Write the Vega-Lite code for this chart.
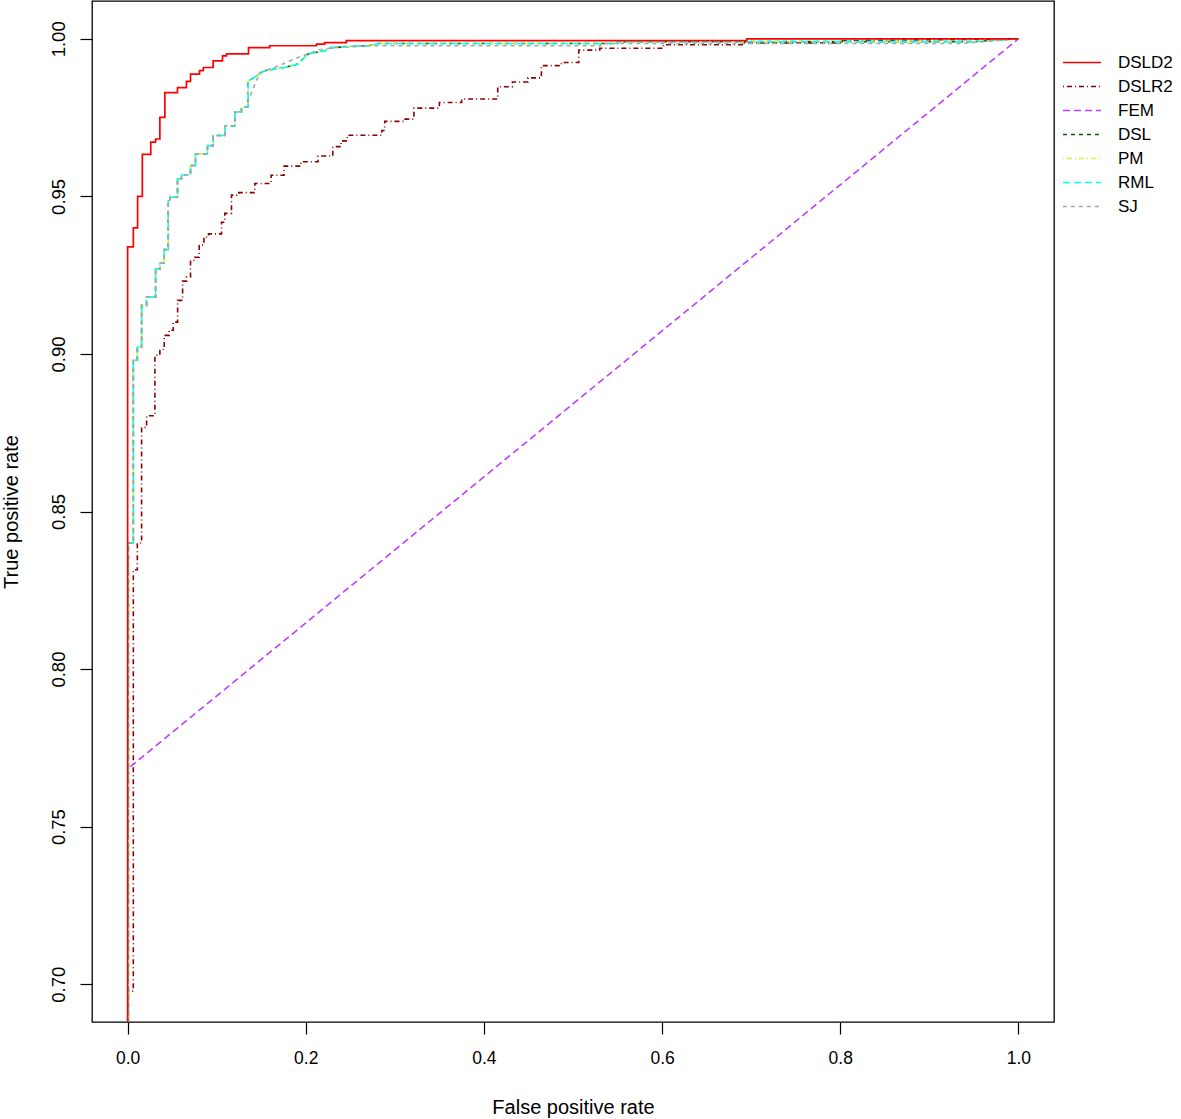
{
  "$schema": "https://vega.github.io/schema/vega-lite/v6.json",
  "width": 962,
  "height": 1021,
  "autosize": {"type": "none"},
  "padding": {"left": 92, "top": 1, "right": 127, "bottom": 97},
  "background": "white",
  "config": {
    "font": "Liberation Sans",
    "view": {"stroke": "black", "strokeWidth": 1.3},
    "axis": {
      "domain": false, "grid": false, "tickColor": "black", "tickSize": 12, "tickWidth": 1.2,
      "labelColor": "black", "labelFontSize": 17.5, "titleFontSize": 20, "titleFontWeight": "normal", "titleColor": "black"
    },
    "legend": {"labelFontSize": 17, "labelColor": "black", "symbolType": "M-2,0H2", "symbolSize": 361, "symbolStrokeWidth": 1.5, "labelOffset": 25.5, "padding": 0, "rowPadding": 5}
  },
  "data": {"values": [
    {"model":"DSLD2","fpr":0,"tpr":0.68},{"model":"DSLD2","fpr":0,"tpr":0.934},{"model":"DSLD2","fpr":0.0064,"tpr":0.934},{"model":"DSLD2","fpr":0.0064,"tpr":0.94},{"model":"DSLD2","fpr":0.0112,"tpr":0.94},{"model":"DSLD2","fpr":0.0112,"tpr":0.95},{"model":"DSLD2","fpr":0.0165,"tpr":0.95},{"model":"DSLD2","fpr":0.0165,"tpr":0.9633},{"model":"DSLD2","fpr":0.026,"tpr":0.9633},{"model":"DSLD2","fpr":0.026,"tpr":0.9672},{"model":"DSLD2","fpr":0.0314,"tpr":0.9672},{"model":"DSLD2","fpr":0.0314,"tpr":0.9682},{"model":"DSLD2","fpr":0.0362,"tpr":0.9682},{"model":"DSLD2","fpr":0.0362,"tpr":0.9751},{"model":"DSLD2","fpr":0.0418,"tpr":0.9751},{"model":"DSLD2","fpr":0.0418,"tpr":0.9829},{"model":"DSLD2","fpr":0.056,"tpr":0.9829},{"model":"DSLD2","fpr":0.056,"tpr":0.9845},{"model":"DSLD2","fpr":0.066,"tpr":0.9845},{"model":"DSLD2","fpr":0.066,"tpr":0.9865},{"model":"DSLD2","fpr":0.0706,"tpr":0.9865},{"model":"DSLD2","fpr":0.0706,"tpr":0.9888},{"model":"DSLD2","fpr":0.0807,"tpr":0.9888},{"model":"DSLD2","fpr":0.0807,"tpr":0.9899},{"model":"DSLD2","fpr":0.085,"tpr":0.9899},{"model":"DSLD2","fpr":0.085,"tpr":0.9909},{"model":"DSLD2","fpr":0.096,"tpr":0.9909},{"model":"DSLD2","fpr":0.096,"tpr":0.993},{"model":"DSLD2","fpr":0.1065,"tpr":0.993},{"model":"DSLD2","fpr":0.1065,"tpr":0.9946},{"model":"DSLD2","fpr":0.111,"tpr":0.9946},{"model":"DSLD2","fpr":0.111,"tpr":0.9952},{"model":"DSLD2","fpr":0.1357,"tpr":0.9952},{"model":"DSLD2","fpr":0.1357,"tpr":0.9972},{"model":"DSLD2","fpr":0.1595,"tpr":0.9972},{"model":"DSLD2","fpr":0.1595,"tpr":0.9978},{"model":"DSLD2","fpr":0.2119,"tpr":0.9978},{"model":"DSLD2","fpr":0.2119,"tpr":0.9983},{"model":"DSLD2","fpr":0.2212,"tpr":0.9983},{"model":"DSLD2","fpr":0.2212,"tpr":0.9988},{"model":"DSLD2","fpr":0.2455,"tpr":0.9988},{"model":"DSLD2","fpr":0.2455,"tpr":0.9994},{"model":"DSLD2","fpr":0.695,"tpr":0.9994},{"model":"DSLD2","fpr":0.695,"tpr":1},{"model":"DSLD2","fpr":1,"tpr":1},

    {"model":"DSLR2","fpr":0.0008,"tpr":0.68},{"model":"DSLR2","fpr":0.0008,"tpr":0.6978},{"model":"DSLR2","fpr":0.0064,"tpr":0.6978},{"model":"DSLR2","fpr":0.0064,"tpr":0.8315},{"model":"DSLR2","fpr":0.0109,"tpr":0.8315},{"model":"DSLR2","fpr":0.0109,"tpr":0.84},{"model":"DSLR2","fpr":0.0157,"tpr":0.84},{"model":"DSLR2","fpr":0.0157,"tpr":0.8767},{"model":"DSLR2","fpr":0.0213,"tpr":0.8767},{"model":"DSLR2","fpr":0.0213,"tpr":0.8804},{"model":"DSLR2","fpr":0.0306,"tpr":0.8804},{"model":"DSLR2","fpr":0.0306,"tpr":0.8996},{"model":"DSLR2","fpr":0.0362,"tpr":0.8996},{"model":"DSLR2","fpr":0.0362,"tpr":0.9014},{"model":"DSLR2","fpr":0.0411,"tpr":0.9014},{"model":"DSLR2","fpr":0.0411,"tpr":0.9059},{"model":"DSLR2","fpr":0.0467,"tpr":0.9059},{"model":"DSLR2","fpr":0.0467,"tpr":0.9075},{"model":"DSLR2","fpr":0.0512,"tpr":0.9075},{"model":"DSLR2","fpr":0.0512,"tpr":0.9101},{"model":"DSLR2","fpr":0.0561,"tpr":0.9101},{"model":"DSLR2","fpr":0.0561,"tpr":0.917},{"model":"DSLR2","fpr":0.0617,"tpr":0.917},{"model":"DSLR2","fpr":0.0617,"tpr":0.9231},{"model":"DSLR2","fpr":0.0661,"tpr":0.9231},{"model":"DSLR2","fpr":0.0661,"tpr":0.9244},{"model":"DSLR2","fpr":0.0706,"tpr":0.9244},{"model":"DSLR2","fpr":0.0706,"tpr":0.9297},{"model":"DSLR2","fpr":0.0755,"tpr":0.9297},{"model":"DSLR2","fpr":0.0755,"tpr":0.9307},{"model":"DSLR2","fpr":0.0804,"tpr":0.9307},{"model":"DSLR2","fpr":0.0804,"tpr":0.9346},{"model":"DSLR2","fpr":0.0857,"tpr":0.9346},{"model":"DSLR2","fpr":0.0857,"tpr":0.9371},{"model":"DSLR2","fpr":0.0908,"tpr":0.9371},{"model":"DSLR2","fpr":0.0908,"tpr":0.9381},{"model":"DSLR2","fpr":0.1054,"tpr":0.9381},{"model":"DSLR2","fpr":0.1054,"tpr":0.9418},{"model":"DSLR2","fpr":0.1091,"tpr":0.9418},{"model":"DSLR2","fpr":0.1091,"tpr":0.9446},{"model":"DSLR2","fpr":0.1166,"tpr":0.9446},{"model":"DSLR2","fpr":0.1166,"tpr":0.9504},{"model":"DSLR2","fpr":0.1248,"tpr":0.9504},{"model":"DSLR2","fpr":0.1248,"tpr":0.9512},{"model":"DSLR2","fpr":0.1428,"tpr":0.9512},{"model":"DSLR2","fpr":0.1428,"tpr":0.9541},{"model":"DSLR2","fpr":0.1611,"tpr":0.9541},{"model":"DSLR2","fpr":0.1611,"tpr":0.9567},{"model":"DSLR2","fpr":0.1756,"tpr":0.9567},{"model":"DSLR2","fpr":0.1756,"tpr":0.9596},{"model":"DSLR2","fpr":0.1946,"tpr":0.9596},{"model":"DSLR2","fpr":0.1946,"tpr":0.961},{"model":"DSLR2","fpr":0.2137,"tpr":0.961},{"model":"DSLR2","fpr":0.2137,"tpr":0.9628},{"model":"DSLR2","fpr":0.2303,"tpr":0.9628},{"model":"DSLR2","fpr":0.2303,"tpr":0.9658},{"model":"DSLR2","fpr":0.2396,"tpr":0.9658},{"model":"DSLR2","fpr":0.2396,"tpr":0.9676},{"model":"DSLR2","fpr":0.2466,"tpr":0.9676},{"model":"DSLR2","fpr":0.2466,"tpr":0.9694},{"model":"DSLR2","fpr":0.2854,"tpr":0.9694},{"model":"DSLR2","fpr":0.2854,"tpr":0.9709},{"model":"DSLR2","fpr":0.2886,"tpr":0.9709},{"model":"DSLR2","fpr":0.2886,"tpr":0.9738},{"model":"DSLR2","fpr":0.31,"tpr":0.9738},{"model":"DSLR2","fpr":0.31,"tpr":0.9745},{"model":"DSLR2","fpr":0.3214,"tpr":0.9745},{"model":"DSLR2","fpr":0.3214,"tpr":0.978},{"model":"DSLR2","fpr":0.35,"tpr":0.978},{"model":"DSLR2","fpr":0.35,"tpr":0.9798},{"model":"DSLR2","fpr":0.375,"tpr":0.9798},{"model":"DSLR2","fpr":0.375,"tpr":0.9809},{"model":"DSLR2","fpr":0.4155,"tpr":0.9809},{"model":"DSLR2","fpr":0.4155,"tpr":0.9848},{"model":"DSLR2","fpr":0.432,"tpr":0.9848},{"model":"DSLR2","fpr":0.432,"tpr":0.9863},{"model":"DSLR2","fpr":0.4495,"tpr":0.9863},{"model":"DSLR2","fpr":0.4495,"tpr":0.9876},{"model":"DSLR2","fpr":0.4645,"tpr":0.9876},{"model":"DSLR2","fpr":0.4645,"tpr":0.9915},{"model":"DSLR2","fpr":0.487,"tpr":0.9915},{"model":"DSLR2","fpr":0.487,"tpr":0.9925},{"model":"DSLR2","fpr":0.5065,"tpr":0.9925},{"model":"DSLR2","fpr":0.5065,"tpr":0.9964},{"model":"DSLR2","fpr":0.53,"tpr":0.9964},{"model":"DSLR2","fpr":0.53,"tpr":0.997},{"model":"DSLR2","fpr":0.6015,"tpr":0.997},{"model":"DSLR2","fpr":0.6015,"tpr":0.9981},{"model":"DSLR2","fpr":0.692,"tpr":0.9981},{"model":"DSLR2","fpr":0.692,"tpr":0.9987},{"model":"DSLR2","fpr":0.8,"tpr":0.9987},{"model":"DSLR2","fpr":0.8,"tpr":0.9994},{"model":"DSLR2","fpr":1,"tpr":1},

    {"model":"FEM","fpr":0.003,"tpr":0.769},{"model":"FEM","fpr":1,"tpr":1},

    {"model":"DSL","fpr":0.0008,"tpr":0.68},{"model":"DSL","fpr":0.0008,"tpr":0.84},{"model":"DSL","fpr":0.0064,"tpr":0.84},{"model":"DSL","fpr":0.0064,"tpr":0.898},{"model":"DSL","fpr":0.0109,"tpr":0.898},{"model":"DSL","fpr":0.0109,"tpr":0.9022},{"model":"DSL","fpr":0.0157,"tpr":0.9022},{"model":"DSL","fpr":0.0157,"tpr":0.9154},{"model":"DSL","fpr":0.0213,"tpr":0.9154},{"model":"DSL","fpr":0.0213,"tpr":0.9181},{"model":"DSL","fpr":0.0314,"tpr":0.9181},{"model":"DSL","fpr":0.0314,"tpr":0.927},{"model":"DSL","fpr":0.0362,"tpr":0.927},{"model":"DSL","fpr":0.0362,"tpr":0.9288},{"model":"DSL","fpr":0.0411,"tpr":0.9288},{"model":"DSL","fpr":0.0411,"tpr":0.9331},{"model":"DSL","fpr":0.0456,"tpr":0.9331},{"model":"DSL","fpr":0.0456,"tpr":0.9489},{"model":"DSL","fpr":0.0474,"tpr":0.9489},{"model":"DSL","fpr":0.0474,"tpr":0.9497},{"model":"DSL","fpr":0.056,"tpr":0.9497},{"model":"DSL","fpr":0.056,"tpr":0.9556},{"model":"DSL","fpr":0.0605,"tpr":0.9556},{"model":"DSL","fpr":0.0605,"tpr":0.9568},{"model":"DSL","fpr":0.0706,"tpr":0.9568},{"model":"DSL","fpr":0.0706,"tpr":0.9598},{"model":"DSL","fpr":0.0762,"tpr":0.9598},{"model":"DSL","fpr":0.0762,"tpr":0.9635},{"model":"DSL","fpr":0.0896,"tpr":0.9635},{"model":"DSL","fpr":0.0896,"tpr":0.9661},{"model":"DSL","fpr":0.0961,"tpr":0.9661},{"model":"DSL","fpr":0.0961,"tpr":0.9693},{"model":"DSL","fpr":0.1091,"tpr":0.9693},{"model":"DSL","fpr":0.1091,"tpr":0.9724},{"model":"DSL","fpr":0.1203,"tpr":0.9724},{"model":"DSL","fpr":0.1203,"tpr":0.9768},{"model":"DSL","fpr":0.1278,"tpr":0.9768},{"model":"DSL","fpr":0.1278,"tpr":0.9784},{"model":"DSL","fpr":0.1353,"tpr":0.9784},{"model":"DSL","fpr":0.1353,"tpr":0.9867},{"model":"DSL","fpr":0.139,"tpr":0.9872},{"model":"DSL","fpr":0.154,"tpr":0.9899},{"model":"DSL","fpr":0.1763,"tpr":0.9909},{"model":"DSL","fpr":0.1914,"tpr":0.992},{"model":"DSL","fpr":0.2026,"tpr":0.9952},{"model":"DSL","fpr":0.2212,"tpr":0.9962},{"model":"DSL","fpr":0.2287,"tpr":0.9972},{"model":"DSL","fpr":0.2698,"tpr":0.9978},{"model":"DSL","fpr":0.2811,"tpr":0.9985},{"model":"DSL","fpr":0.55,"tpr":0.9985},{"model":"DSL","fpr":0.55,"tpr":0.9991},{"model":"DSL","fpr":0.95,"tpr":0.9991},{"model":"DSL","fpr":1,"tpr":1},

    {"model":"PM","fpr":0.0008,"tpr":0.68},{"model":"PM","fpr":0.0008,"tpr":0.84},{"model":"PM","fpr":0.0064,"tpr":0.84},{"model":"PM","fpr":0.0064,"tpr":0.898},{"model":"PM","fpr":0.0109,"tpr":0.898},{"model":"PM","fpr":0.0109,"tpr":0.9022},{"model":"PM","fpr":0.0157,"tpr":0.9022},{"model":"PM","fpr":0.0157,"tpr":0.9154},{"model":"PM","fpr":0.0213,"tpr":0.9154},{"model":"PM","fpr":0.0213,"tpr":0.9181},{"model":"PM","fpr":0.0314,"tpr":0.9181},{"model":"PM","fpr":0.0314,"tpr":0.927},{"model":"PM","fpr":0.0362,"tpr":0.927},{"model":"PM","fpr":0.0362,"tpr":0.9288},{"model":"PM","fpr":0.0411,"tpr":0.9288},{"model":"PM","fpr":0.0411,"tpr":0.9331},{"model":"PM","fpr":0.0456,"tpr":0.9331},{"model":"PM","fpr":0.0456,"tpr":0.9489},{"model":"PM","fpr":0.0474,"tpr":0.9489},{"model":"PM","fpr":0.0474,"tpr":0.9497},{"model":"PM","fpr":0.056,"tpr":0.9497},{"model":"PM","fpr":0.056,"tpr":0.9556},{"model":"PM","fpr":0.0605,"tpr":0.9556},{"model":"PM","fpr":0.0605,"tpr":0.9568},{"model":"PM","fpr":0.0706,"tpr":0.9568},{"model":"PM","fpr":0.0706,"tpr":0.9598},{"model":"PM","fpr":0.0762,"tpr":0.9598},{"model":"PM","fpr":0.0762,"tpr":0.9635},{"model":"PM","fpr":0.0896,"tpr":0.9635},{"model":"PM","fpr":0.0896,"tpr":0.9661},{"model":"PM","fpr":0.0961,"tpr":0.9661},{"model":"PM","fpr":0.0961,"tpr":0.9693},{"model":"PM","fpr":0.1091,"tpr":0.9693},{"model":"PM","fpr":0.1091,"tpr":0.9724},{"model":"PM","fpr":0.1203,"tpr":0.9724},{"model":"PM","fpr":0.1203,"tpr":0.9768},{"model":"PM","fpr":0.1278,"tpr":0.9768},{"model":"PM","fpr":0.1278,"tpr":0.9784},{"model":"PM","fpr":0.1353,"tpr":0.9784},{"model":"PM","fpr":0.1353,"tpr":0.9867},{"model":"PM","fpr":0.139,"tpr":0.9872},{"model":"PM","fpr":0.154,"tpr":0.9899},{"model":"PM","fpr":0.1763,"tpr":0.9909},{"model":"PM","fpr":0.1914,"tpr":0.992},{"model":"PM","fpr":0.2026,"tpr":0.9952},{"model":"PM","fpr":0.2212,"tpr":0.9962},{"model":"PM","fpr":0.2287,"tpr":0.9972},{"model":"PM","fpr":0.2698,"tpr":0.9978},{"model":"PM","fpr":0.2811,"tpr":0.9985},{"model":"PM","fpr":0.55,"tpr":0.9985},{"model":"PM","fpr":0.55,"tpr":0.9991},{"model":"PM","fpr":0.95,"tpr":0.9991},{"model":"PM","fpr":1,"tpr":1},

    {"model":"RML","fpr":0.0008,"tpr":0.68},{"model":"RML","fpr":0.0008,"tpr":0.84},{"model":"RML","fpr":0.0064,"tpr":0.84},{"model":"RML","fpr":0.0064,"tpr":0.898},{"model":"RML","fpr":0.0109,"tpr":0.898},{"model":"RML","fpr":0.0109,"tpr":0.9022},{"model":"RML","fpr":0.0157,"tpr":0.9022},{"model":"RML","fpr":0.0157,"tpr":0.9154},{"model":"RML","fpr":0.0213,"tpr":0.9154},{"model":"RML","fpr":0.0213,"tpr":0.9181},{"model":"RML","fpr":0.0314,"tpr":0.9181},{"model":"RML","fpr":0.0314,"tpr":0.927},{"model":"RML","fpr":0.0362,"tpr":0.927},{"model":"RML","fpr":0.0362,"tpr":0.9288},{"model":"RML","fpr":0.0411,"tpr":0.9288},{"model":"RML","fpr":0.0411,"tpr":0.9331},{"model":"RML","fpr":0.0456,"tpr":0.9331},{"model":"RML","fpr":0.0456,"tpr":0.9489},{"model":"RML","fpr":0.0474,"tpr":0.9489},{"model":"RML","fpr":0.0474,"tpr":0.9497},{"model":"RML","fpr":0.056,"tpr":0.9497},{"model":"RML","fpr":0.056,"tpr":0.9556},{"model":"RML","fpr":0.0605,"tpr":0.9556},{"model":"RML","fpr":0.0605,"tpr":0.9568},{"model":"RML","fpr":0.0706,"tpr":0.9568},{"model":"RML","fpr":0.0706,"tpr":0.9598},{"model":"RML","fpr":0.0762,"tpr":0.9598},{"model":"RML","fpr":0.0762,"tpr":0.9635},{"model":"RML","fpr":0.0896,"tpr":0.9635},{"model":"RML","fpr":0.0896,"tpr":0.9661},{"model":"RML","fpr":0.0961,"tpr":0.9661},{"model":"RML","fpr":0.0961,"tpr":0.9693},{"model":"RML","fpr":0.1091,"tpr":0.9693},{"model":"RML","fpr":0.1091,"tpr":0.9724},{"model":"RML","fpr":0.1203,"tpr":0.9724},{"model":"RML","fpr":0.1203,"tpr":0.9768},{"model":"RML","fpr":0.1278,"tpr":0.9768},{"model":"RML","fpr":0.1278,"tpr":0.9784},{"model":"RML","fpr":0.1353,"tpr":0.9784},{"model":"RML","fpr":0.1353,"tpr":0.9867},{"model":"RML","fpr":0.139,"tpr":0.9872},{"model":"RML","fpr":0.154,"tpr":0.9899},{"model":"RML","fpr":0.1763,"tpr":0.9909},{"model":"RML","fpr":0.1914,"tpr":0.992},{"model":"RML","fpr":0.2026,"tpr":0.9952},{"model":"RML","fpr":0.2212,"tpr":0.9962},{"model":"RML","fpr":0.2287,"tpr":0.9972},{"model":"RML","fpr":0.2698,"tpr":0.9978},{"model":"RML","fpr":0.2811,"tpr":0.9985},{"model":"RML","fpr":0.55,"tpr":0.9985},{"model":"RML","fpr":0.55,"tpr":0.9991},{"model":"RML","fpr":0.95,"tpr":0.9991},{"model":"RML","fpr":1,"tpr":1},

    {"model":"SJ","fpr":0.0008,"tpr":0.68},{"model":"SJ","fpr":0.0008,"tpr":0.84},{"model":"SJ","fpr":0.0064,"tpr":0.84},{"model":"SJ","fpr":0.0064,"tpr":0.898},{"model":"SJ","fpr":0.0109,"tpr":0.898},{"model":"SJ","fpr":0.0109,"tpr":0.9022},{"model":"SJ","fpr":0.0157,"tpr":0.9022},{"model":"SJ","fpr":0.0157,"tpr":0.9154},{"model":"SJ","fpr":0.0213,"tpr":0.9154},{"model":"SJ","fpr":0.0213,"tpr":0.9181},{"model":"SJ","fpr":0.0314,"tpr":0.9181},{"model":"SJ","fpr":0.0314,"tpr":0.927},{"model":"SJ","fpr":0.0362,"tpr":0.927},{"model":"SJ","fpr":0.0362,"tpr":0.9288},{"model":"SJ","fpr":0.0411,"tpr":0.9288},{"model":"SJ","fpr":0.0411,"tpr":0.9331},{"model":"SJ","fpr":0.0456,"tpr":0.9331},{"model":"SJ","fpr":0.0456,"tpr":0.9489},{"model":"SJ","fpr":0.0474,"tpr":0.9489},{"model":"SJ","fpr":0.0474,"tpr":0.9497},{"model":"SJ","fpr":0.056,"tpr":0.9497},{"model":"SJ","fpr":0.056,"tpr":0.9556},{"model":"SJ","fpr":0.0605,"tpr":0.9556},{"model":"SJ","fpr":0.0605,"tpr":0.9568},{"model":"SJ","fpr":0.0706,"tpr":0.9568},{"model":"SJ","fpr":0.0706,"tpr":0.9598},{"model":"SJ","fpr":0.0762,"tpr":0.9598},{"model":"SJ","fpr":0.0762,"tpr":0.9635},{"model":"SJ","fpr":0.0896,"tpr":0.9635},{"model":"SJ","fpr":0.0896,"tpr":0.9661},{"model":"SJ","fpr":0.0961,"tpr":0.9661},{"model":"SJ","fpr":0.0961,"tpr":0.9693},{"model":"SJ","fpr":0.1091,"tpr":0.9693},{"model":"SJ","fpr":0.1091,"tpr":0.9724},{"model":"SJ","fpr":0.1203,"tpr":0.9724},{"model":"SJ","fpr":0.1203,"tpr":0.9768},{"model":"SJ","fpr":0.1278,"tpr":0.9768},{"model":"SJ","fpr":0.1278,"tpr":0.9784},{"model":"SJ","fpr":0.1353,"tpr":0.9784},{"model":"SJ","fpr":0.1353,"tpr":0.9804},{"model":"SJ","fpr":0.1483,"tpr":0.9893},{"model":"SJ","fpr":0.169,"tpr":0.9914},{"model":"SJ","fpr":0.1914,"tpr":0.9941},{"model":"SJ","fpr":0.2138,"tpr":0.9964},{"model":"SJ","fpr":0.2362,"tpr":0.9975},{"model":"SJ","fpr":0.2698,"tpr":0.9978},{"model":"SJ","fpr":0.531,"tpr":0.9978},{"model":"SJ","fpr":0.531,"tpr":0.9985},{"model":"SJ","fpr":0.935,"tpr":0.9985},{"model":"SJ","fpr":1,"tpr":1}
  ]},
  "encoding": {
    "x": {"field": "fpr", "type": "quantitative", "scale": {"domain": [-0.04, 1.04], "nice": false, "zero": false},
      "axis": {"title": "False positive rate", "values": [0, 0.2, 0.4, 0.6, 0.8, 1.0], "format": ".1f", "labelPadding": 15, "titlePadding": 31, "labelFlush": false}},
    "y": {"field": "tpr", "type": "quantitative", "scale": {"domain": [0.688, 1.012], "nice": false, "zero": false},
      "axis": {"title": "True positive rate", "values": [0.70, 0.75, 0.80, 0.85, 0.90, 0.95, 1.00], "format": ".2f", "labelFontSize": 18.5, "labelAngle": -90, "labelAlign": "center", "labelBaseline": "alphabetic", "labelPadding": 16, "titlePadding": 28, "labelFlush": false}},
    "color": {"field": "model", "type": "nominal",
      "scale": {"domain": ["DSLD2", "DSLR2", "FEM", "DSL", "PM", "RML", "SJ"], "range": ["#FF0000", "#8B0000", "#BF3EFF", "#006400", "#C0FF3E", "#00FFFF", "#A8A8A8"]},
      "legend": {"title": null, "orient": "none", "legendX": 979.5, "legendY": 51}},
    "strokeDash": {"field": "model", "type": "nominal",
      "scale": {"domain": ["DSLD2", "DSLR2", "FEM", "DSL", "PM", "RML", "SJ"], "range": [[1, 0], [1, 3, 5, 3], [7, 4], [4, 4], [1, 3, 5, 3], [7, 4], [4, 4]]},
      "legend": {"title": null, "orient": "none", "legendX": 979.5, "legendY": 51}},
    "order": {"value": null}
  },
  "layer": [
    {"transform": [{"filter": "datum.model === 'DSLR2'"}], "mark": {"type": "line", "clip": true, "strokeWidth": 1.6}},
    {"transform": [{"filter": "datum.model === 'FEM'"}], "mark": {"type": "line", "clip": true, "strokeWidth": 1.6}},
    {"transform": [{"filter": "datum.model === 'DSL'"}], "mark": {"type": "line", "clip": true, "strokeWidth": 1.6}},
    {"transform": [{"filter": "datum.model === 'PM'"}], "mark": {"type": "line", "clip": true, "strokeWidth": 1.6}},
    {"transform": [{"filter": "datum.model === 'RML'"}], "mark": {"type": "line", "clip": true, "strokeWidth": 1.6}},
    {"transform": [{"filter": "datum.model === 'SJ'"}], "mark": {"type": "line", "clip": true, "strokeWidth": 1.6}},
    {"transform": [{"filter": "datum.model === 'DSLD2'"}], "mark": {"type": "line", "clip": true, "strokeWidth": 1.7}}
  ]
}
